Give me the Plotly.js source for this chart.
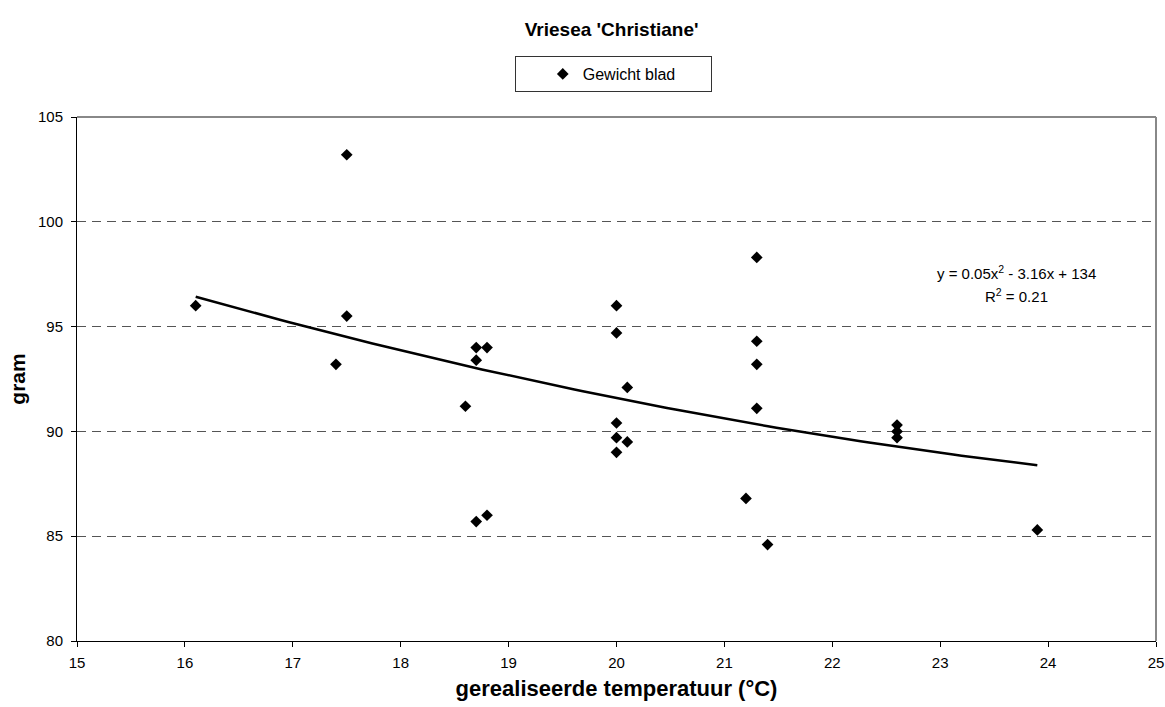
<!DOCTYPE html>
<html>
<head>
<meta charset="utf-8">
<script src="https://cdn.plot.ly/plotly-3.0.1.min.js"></script>
<style>html,body{margin:0;padding:0;background:#fff;}#chart{width:1165px;height:707px;}</style>
</head>
<body>
<div id="chart"></div>
<script>
const temperature = [16.1, 17.4, 17.5, 17.5, 18.6, 18.7, 18.7, 18.7, 18.8, 18.8,
  20.0, 20.0, 20.0, 20.0, 20.0, 20.1, 20.1, 21.2, 21.3, 21.3, 21.3, 21.3, 21.4,
  22.6, 22.6, 22.6, 23.9];
const gewicht = [96.0, 93.2, 103.2, 95.5, 91.2, 94.0, 93.4, 85.7, 94.0, 86.0,
  96.0, 94.7, 90.4, 89.7, 89.0, 92.1, 89.5, 86.8, 98.3, 94.3, 93.2, 91.1, 84.6,
  90.3, 90.0, 89.7, 85.3];
const xTicks = [15, 16, 17, 18, 19, 20, 21, 22, 23, 24, 25];
const yTicks = [80, 85, 90, 95, 100, 105];

// least-squares quadratic trendline
function polyfit2(xs, ys) {
  let S = [0,0,0,0,0], T = [0,0,0];
  for (let i = 0; i < xs.length; i++) {
    let p = 1;
    for (let k = 0; k < 5; k++) { S[k] += p; if (k < 3) T[k] += p * ys[i]; p *= xs[i]; }
  }
  const A = [[S[0],S[1],S[2],T[0]],[S[1],S[2],S[3],T[1]],[S[2],S[3],S[4],T[2]]];
  for (let c = 0; c < 3; c++) {
    for (let r = c + 1; r < 3; r++) {
      const f = A[r][c] / A[c][c];
      for (let k = c; k < 4; k++) A[r][k] -= f * A[c][k];
    }
  }
  const sol = [0,0,0];
  for (let r = 2; r >= 0; r--) {
    let s = A[r][3];
    for (let k = r + 1; k < 3; k++) s -= A[r][k] * sol[k];
    sol[r] = s / A[r][r];
  }
  return sol; // c0, c1, c2
}
const coef = polyfit2(temperature, gewicht);
const xmin = Math.min(...temperature), xmax = Math.max(...temperature);
const trendX = [], trendY = [];
for (let i = 0; i <= 100; i++) {
  const x = xmin + (xmax - xmin) * i / 100;
  trendX.push(x);
  trendY.push(coef[0] + coef[1] * x + coef[2] * x * x);
}

const font = 'Liberation Sans, Arial, sans-serif';
const traces = [
  {x: temperature, y: gewicht, type: 'scatter', mode: 'markers', name: 'Gewicht blad',
   marker: {symbol: 'diamond', size: 9, color: '#000'}},
  {x: trendX, y: trendY, type: 'scatter', mode: 'lines', showlegend: false,
   line: {color: '#000', width: 2.5}, hoverinfo: 'skip'}
];
const layout = {
  width: 1165, height: 707,
  paper_bgcolor: '#fff', plot_bgcolor: '#fff',
  margin: {l: 77, r: 9, t: 117, b: 66},
  font: {family: font, size: 15, color: '#000'},
  title: {text: "<b>Vriesea 'Christiane'</b>", x: 0.525, xanchor: 'center', y: 0.958, yanchor: 'middle',
          font: {family: font, size: 19, color: '#000'}},
  showlegend: true,
  legend: {x: 0.497, xanchor: 'center', y: 1.082, yanchor: 'middle', xref: 'paper', yref: 'paper',
           orientation: 'h', bordercolor: '#333', borderwidth: 1, bgcolor: '#fff',
           font: {family: font, size: 16, color: '#000'}, itemwidth: 30,
           indentation: 27, entrywidth: 123},
  xaxis: {range: [15, 25], tickvals: xTicks, ticktext: xTicks.map(String),
          showgrid: false, zeroline: false, showline: true, linecolor: '#000', linewidth: 1,
          ticks: 'outside', ticklen: 5, tickcolor: '#000', ticklabelstandoff: 3,
          tickfont: {family: font, size: 15, color: '#000'},
          title: {text: '<b>gerealiseerde temperatuur (°C)</b>', standoff: 10,
                  font: {family: font, size: 22, color: '#000'}}},
  yaxis: {range: [80, 105], tickvals: yTicks, ticktext: yTicks.map(String),
          showgrid: true, gridcolor: '#555', griddash: '9px,6px', gridwidth: 1,
          zeroline: false, showline: true, linecolor: '#000', linewidth: 1,
          ticks: 'outside', ticklen: 5, tickcolor: '#000', ticklabelstandoff: 5,
          tickfont: {family: font, size: 15, color: '#000'},
          title: {text: '<b>gram</b>', standoff: 6, font: {family: font, size: 21, color: '#000'}}},
  shapes: [
    {type: 'line', xref: 'paper', yref: 'paper', x0: 0, x1: 1, y0: 1, y1: 1,
     line: {color: '#888', width: 2}, layer: 'above'},
    {type: 'line', xref: 'paper', yref: 'paper', x0: 1, x1: 1, y0: 0, y1: 1,
     line: {color: '#888', width: 2}, layer: 'above'}
  ],
  annotations: [
    {xref: 'x', yref: 'y', x: 23.71, y: 97.6, text: 'y = 0.05x<sup>2</sup> - 3.16x + 134',
     showarrow: false, xanchor: 'center', yanchor: 'middle', font: {family: font, size: 15, color: '#000'}},
    {xref: 'x', yref: 'y', x: 23.71, y: 96.5, text: 'R<sup>2</sup> = 0.21',
     showarrow: false, xanchor: 'center', yanchor: 'middle', font: {family: font, size: 15, color: '#000'}}
  ]
};
Plotly.newPlot('chart', traces, layout, {displayModeBar: false, staticPlot: true});
</script>
</body>
</html>
